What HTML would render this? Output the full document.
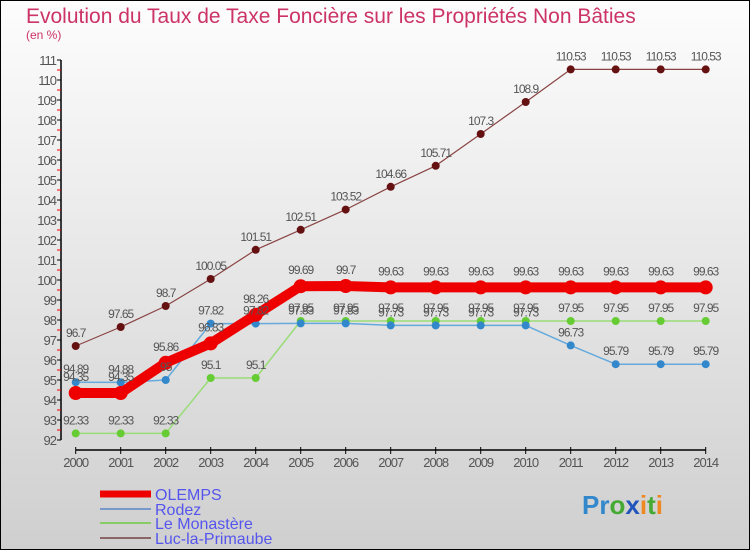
<!DOCTYPE html>
<html><head><meta charset="utf-8"><style>
body{margin:0}
#c{width:750px;height:550px;position:relative;overflow:hidden}
svg{position:absolute;left:0;top:0}
text{font-family:"Liberation Sans",sans-serif}
</style></head><body>
<div id="c">
<svg id="s" width="750" height="550" xmlns="http://www.w3.org/2000/svg">
<defs><linearGradient id="bg" x1="0" y1="0" x2="0" y2="1"><stop offset="0" stop-color="#fdfdfd"/><stop offset="1" stop-color="#cfcfcf"/></linearGradient></defs>
<rect x="0.5" y="0.5" width="749" height="549" fill="url(#bg)" stroke="#000"/>
<text x="26" y="23" font-size="21" fill="#cc3366">Evolution du Taux de Taxe Foncière sur les Propriétés Non Bâties</text>
<text x="26" y="39" font-size="12" fill="#cc3366">(en %)</text>
<g id="axes"></g><g id="series"></g><g id="labels"></g>
<g>
<line x1="100" y1="494" x2="151" y2="494" stroke="#ee0000" stroke-width="7"/>
<text x="155" y="500" font-size="16" fill="#5555ee">OLEMPS</text>
<line x1="100" y1="509" x2="151" y2="509" stroke="#7799cc" stroke-width="2"/>
<text x="155" y="515" font-size="16" fill="#5555ee">Rodez</text>
<line x1="100" y1="523" x2="151" y2="523" stroke="#88cc66" stroke-width="2"/>
<text x="155" y="529" font-size="16" fill="#5555ee">Le Monastère</text>
<line x1="100" y1="538" x2="151" y2="538" stroke="#8a6666" stroke-width="2"/>
<text x="155" y="544" font-size="16" fill="#5555ee">Luc-la-Primaube</text>
</g>
<g font-size="26" font-weight="bold">
<text x="582" y="514"><tspan fill="#3388cc">Pr</tspan><tspan fill="#44aa33">o</tspan><tspan fill="#2255bb">x</tspan><tspan fill="#ee8822">i</tspan><tspan fill="#44aa33">t</tspan><tspan fill="#ee8822">i</tspan></text>
</g>
</svg>
</div>
<script>
const years=[2000,2001,2002,2003,2004,2005,2006,2007,2008,2009,2010,2011,2012,2013,2014];
const olemps=[94.35,94.35,95.86,96.83,98.26,99.69,99.7,99.63,99.63,99.63,99.63,99.63,99.63,99.63,99.63];
const rodez=[94.89,94.88,95,97.82,97.82,97.83,97.83,97.73,97.73,97.73,97.73,96.73,95.79,95.79,95.79];
const monastere=[92.33,92.33,92.33,95.1,95.1,97.95,97.95,97.95,97.95,97.95,97.95,97.95,97.95,97.95,97.95];
const luc=[96.7,97.65,98.7,100.05,101.51,102.51,103.52,104.66,105.71,107.3,108.9,110.53,110.53,110.53,110.53];
const yTicks=[92,93,94,95,96,97,98,99,100,101,102,103,104,105,106,107,108,109,110,111];
const NS="http://www.w3.org/2000/svg";
const X=i=>75.7+i*45;
const Y=v=>440-(v-92)*20;
function mk(p,t,a){const e=document.createElementNS(NS,t);for(const k in a)e.setAttribute(k,a[k]);p.appendChild(e);return e;}
const ax=document.getElementById('axes');
let l=mk(ax,'line',{x1:61,y1:60,x2:61,y2:440,stroke:'#000','stroke-width':1.5});


yTicks.forEach(v=>{
  mk(ax,'line',{x1:57,y1:Y(v),x2:61,y2:Y(v),stroke:'#000'});
  if(v<111)mk(ax,'line',{x1:57,y1:Y(v+0.5),x2:61,y2:Y(v+0.5),stroke:'#e00'});
  const t=mk(ax,'text',{x:56,y:Y(v)+5,'font-size':13,fill:'#555','text-anchor':'end','letter-spacing':'-1'});
  t.textContent=v;
  
  
});
l=mk(ax,'line',{x1:X(0),y1:450,x2:X(14),y2:450,stroke:'#000','stroke-width':1.5});


years.forEach((y,i)=>{
  mk(ax,'line',{x1:X(i),y1:447,x2:X(i),y2:454,stroke:'#000'});
  const t=mk(ax,'text',{x:X(i),y:467,'font-size':13,fill:'#555','text-anchor':'middle','letter-spacing':'-1'});
  t.textContent=y;
  
  
});
const sg=document.getElementById('series'),lg=document.getElementById('labels');
function series(vals,name,lc,lw,dc,r,dy){
  const g=mk(sg,'g',{});
  
  
  const pl=mk(g,'polyline',{points:vals.map((v,i)=>X(i)+','+Y(v)).join(' '),fill:'none',stroke:lc,'stroke-width':lw,'stroke-linejoin':'round'});
  
  
  vals.forEach((v,i)=>{
    const c=mk(g,'circle',{cx:X(i),cy:Y(v),r:r,fill:dc});
    
    
    const t=mk(lg,'text',{x:X(i),y:Y(v)-dy,'font-size':12,fill:'#555','text-anchor':'middle','letter-spacing':'-1'});
    t.textContent=v;
    
    
  });
}
series(luc,'luc-la-primaube','#8a4444',1.2,'#661111',4,9);
series(monastere,'le-monastere','#99dd77',1.5,'#66cc33',4,9);
series(rodez,'rodez','#66aadd',1.5,'#3388cc',4,9);
series(olemps,'olemps','#ee0000',10,'#ee0000',7,12);
</script>
</body></html>
